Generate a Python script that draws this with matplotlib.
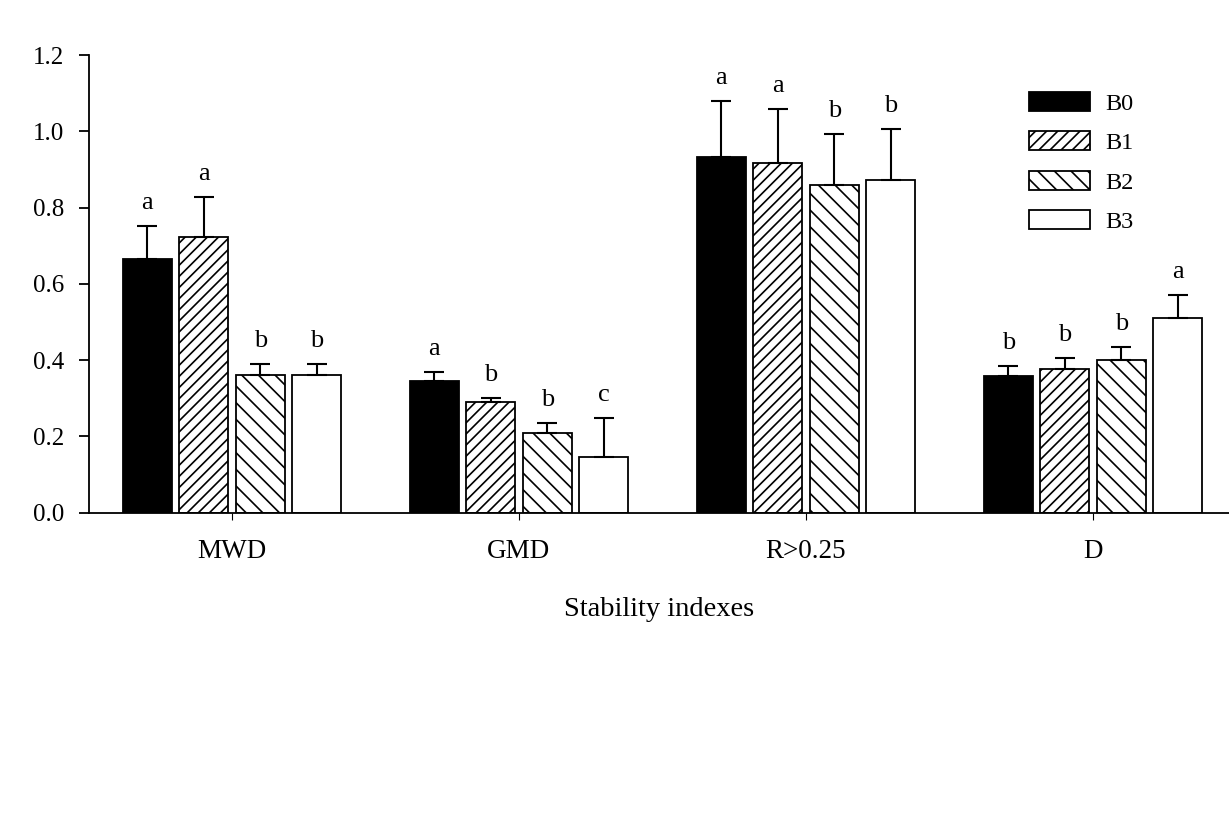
import numpy as np
import matplotlib
matplotlib.use("Agg")
import matplotlib.pyplot as plt

plt.rcParams['font.family'] = ['Liberation Serif', 'DejaVu Serif']
plt.rcParams['hatch.linewidth'] = 1.2

categories = ['MWD', 'GMD', 'R>0.25', 'D']
series = ['B0', 'B1', 'B2', 'B3']

values = {
    'B0': [0.664, 0.345, 0.933, 0.358],
    'B1': [0.724, 0.291, 0.916, 0.376],
    'B2': [0.361, 0.208, 0.860, 0.400],
    'B3': [0.361, 0.147, 0.872, 0.511],
}
errors = {
    'B0': [0.088, 0.023, 0.147, 0.026],
    'B1': [0.103, 0.011, 0.142, 0.030],
    'B2': [0.028, 0.026, 0.132, 0.035],
    'B3': [0.029, 0.100, 0.133, 0.060],
}
letters = {
    'B0': ['a', 'a', 'a', 'b'],
    'B1': ['a', 'b', 'a', 'b'],
    'B2': ['b', 'b', 'b', 'b'],
    'B3': ['b', 'c', 'b', 'a'],
}

faces = {'B0': 'black', 'B1': 'white', 'B2': 'white', 'B3': 'white'}
hatches = {'B0': None, 'B1': '///', 'B2': '\\\\', 'B3': None}

fig = plt.figure(figsize=(12.29, 8.32), dpi=100)
ax = fig.add_axes([89 / 1229, (832 - 512.7) / 832, 1 - 89 / 1229, 457.7 / 832])

x = np.arange(len(categories))
step = 0.197
width = 0.171
fs = 19

for i, s in enumerate(series):
    pos = x + (i - 1.5) * step
    vals = np.array(values[s])
    errs = np.array(errors[s])
    ax.bar(pos, vals, width, color=faces[s], edgecolor='black', linewidth=1.3,
           hatch=hatches[s], label=s, zorder=2)
    ax.errorbar(pos, vals, yerr=[np.zeros_like(errs), errs], fmt='none',
                ecolor='black', elinewidth=1.5, capsize=7.5, capthick=1.5, zorder=3)
    for p, v, e, t in zip(pos, vals, errs, letters[s]):
        ax.annotate(t, (p, v + e), xytext=(0, 17), textcoords='offset pixels',
                    ha='center', va='baseline', fontsize=fs)

ax.set_xlim(-0.498, 3.474)
ax.set_ylim(0, 1.2)
ax.set_yticks(np.arange(0, 1.21, 0.2))
ax.set_yticklabels([f'{v:.1f}' for v in np.arange(0, 1.21, 0.2)])
ax.set_xticks(x)
ax.set_xticklabels(categories)
ax.tick_params(axis='y', labelsize=fs - 1, length=7, width=1.3, direction='out', pad=11)
ax.tick_params(axis='x', labelsize=fs + 0.5, length=5, width=0.8, direction='out', pad=14)

for side in ['top', 'right']:
    ax.spines[side].set_visible(False)
for side in ['left', 'bottom']:
    ax.spines[side].set_linewidth(1.3)

ax.set_xlabel('Stability indexes', fontsize=20.5, labelpad=24)

ax.legend(loc='upper left', bbox_to_anchor=(1029 / 1229, 1 - 92 / 832),
          bbox_transform=fig.transFigure, frameon=False, fontsize=17.5,
          handlelength=2.5, handleheight=0.82, handletextpad=0.62,
          labelspacing=0.68, borderpad=0, borderaxespad=0)

fig.savefig('out.png', dpi=100)
